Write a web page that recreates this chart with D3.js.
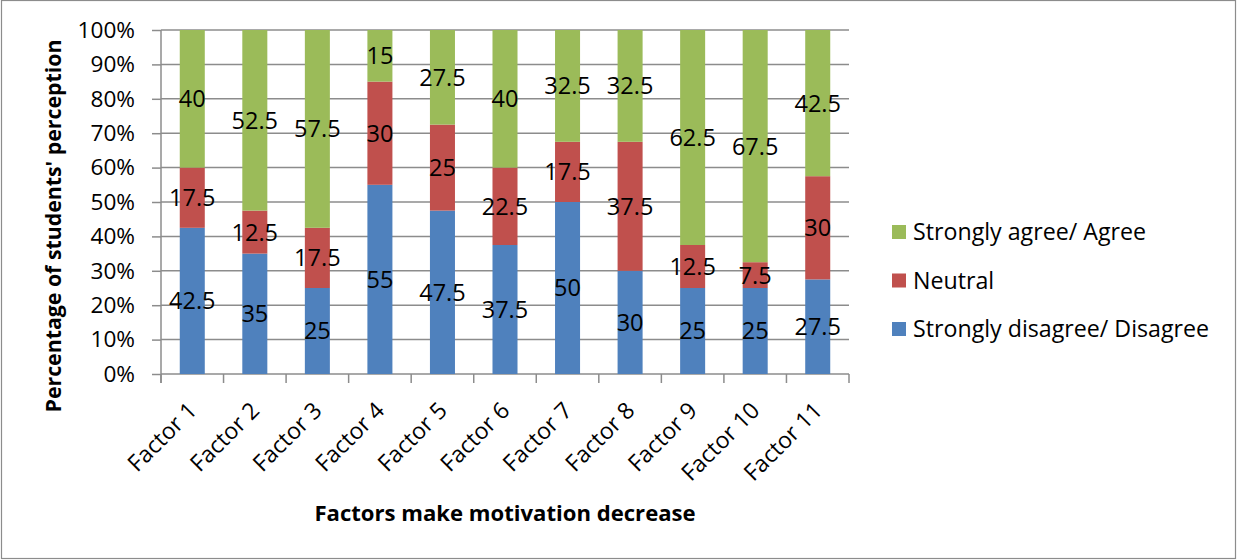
<!DOCTYPE html>
<html>
<head>
<meta charset="utf-8">
<script src="https://cdn.jsdelivr.net/npm/d3@7"></script>
<style>
  html, body { margin: 0; padding: 0; background: #fff; }
  svg { display: block; font-family: "Open Sans", "Noto Sans", sans-serif; }
</style>
</head>
<body>
<svg id="chart" width="1237" height="560"></svg>
<script>
// Survey results: share of students per answer, by factor
const categories = ["Factor 1", "Factor 2", "Factor 3", "Factor 4", "Factor 5", "Factor 6",
                    "Factor 7", "Factor 8", "Factor 9", "Factor 10", "Factor 11"];
const disagree = [42.5, 35, 25, 55, 47.5, 37.5, 50, 30, 25, 25, 27.5];
const neutral  = [17.5, 12.5, 17.5, 30, 25, 22.5, 17.5, 37.5, 12.5, 7.5, 30];
const agree    = [40, 52.5, 57.5, 15, 27.5, 40, 32.5, 32.5, 62.5, 67.5, 42.5];
const seriesNames = ["Strongly disagree/ Disagree", "Neutral", "Strongly agree/ Agree"];
const yTicks = [0, 10, 20, 30, 40, 50, 60, 70, 80, 90, 100];
const xTitle = "Factors make motivation decrease";
const yTitle = "Percentage of students' perception";

const colors = ["#4F81BD", "#C0504D", "#9BBB59"];

const svg = d3.select("#chart");
const W = 1237, H = 560;
const plot = { left: 161, right: 849, top: 30, bottom: 374 };

// outer frame
svg.append("rect")
  .attr("x", 1.5).attr("y", 0.5).attr("width", W - 3).attr("height", H - 2)
  .attr("fill", "#fff").attr("stroke", "#8c8c8c").attr("stroke-width", 1.2);

const table = categories.map((c, i) => ({
  cat: c, [seriesNames[0]]: disagree[i], [seriesNames[1]]: neutral[i], [seriesNames[2]]: agree[i]
}));
const stacked = d3.stack().keys(seriesNames)(table);

const x = d3.scaleBand().domain(categories).range([plot.left, plot.right]).paddingInner(0).paddingOuter(0);
const y = d3.scaleLinear().domain([0, 100]).range([plot.bottom, plot.top]);

const barW = x.bandwidth() * 0.4;
const gridColor = "#8c8c8c";

// horizontal gridlines
svg.append("g").selectAll("line").data(yTicks.filter(d => d > 0)).join("line")
  .attr("x1", plot.left).attr("x2", plot.right)
  .attr("y1", d => y(d)).attr("y2", d => y(d))
  .attr("stroke", gridColor).attr("stroke-width", 1.5);

// y axis
const yAxis = d3.axisLeft(y).tickValues(yTicks).tickSize(9).tickPadding(17)
  .tickFormat(d => d + "%");
const gy = svg.append("g").attr("transform", `translate(${plot.left},0)`).call(yAxis);
gy.select(".domain").remove();
gy.selectAll(".tick line").attr("stroke", gridColor).attr("stroke-width", 1.5);
gy.selectAll(".tick text").attr("font-size", 22.6).attr("fill", "#000")
  .attr("font-family", "'Open Sans', sans-serif");

// x axis with ticks at the band edges
const edges = categories.map(c => x(c)).concat([plot.right]);
const gx = svg.append("g");
gx.append("line").attr("x1", plot.left).attr("x2", plot.right)
  .attr("y1", plot.bottom).attr("y2", plot.bottom)
  .attr("stroke", gridColor).attr("stroke-width", 1.5);
gx.selectAll("line.edge").data(edges).join("line").attr("class", "edge")
  .attr("x1", d => d).attr("x2", d => d)
  .attr("y1", plot.bottom).attr("y2", plot.bottom + 9)
  .attr("stroke", gridColor).attr("stroke-width", 1.5);
// vertical axis line
svg.append("line").attr("x1", plot.left).attr("x2", plot.left)
  .attr("y1", plot.top).attr("y2", plot.bottom + 9)
  .attr("stroke", gridColor).attr("stroke-width", 1.5);

// category labels, rotated
gx.selectAll("text.cat").data(categories).join("text").attr("class", "cat")
  .attr("transform", d => `translate(${x(d) + x.bandwidth() / 2 + 6},${plot.bottom + 38}) rotate(-45)`)
  .attr("text-anchor", "end")
  .attr("font-size", 23)
  .attr("fill", "#000")
  .text(d => d);

// stacked bars
const layers = svg.append("g").selectAll("g").data(stacked).join("g")
  .attr("fill", (d, i) => colors[i]);
layers.selectAll("rect").data(d => d).join("rect")
  .attr("x", d => x(d.data.cat) + (x.bandwidth() - barW) / 2)
  .attr("width", barW)
  .attr("y", d => y(d[1]))
  .attr("height", d => y(d[0]) - y(d[1]));

// value labels centred in each segment
const labels = svg.append("g").selectAll("g").data(stacked).join("g");
labels.selectAll("text").data(d => d.map(v => ({ v, key: d.key }))).join("text")
  .attr("x", d => x(d.v.data.cat) + x.bandwidth() / 2)
  .attr("y", d => y((d.v[0] + d.v[1]) / 2))
  .attr("dy", "0.36em")
  .attr("text-anchor", "middle")
  .attr("font-size", 23.5)
  .attr("fill", "#000")
  .text(d => d.v.data[d.key]);

// legend (top to bottom: agree, neutral, disagree)
const legendItems = seriesNames.map((n, i) => ({ n, c: colors[i] })).reverse();
const lg = svg.append("g").selectAll("g").data(legendItems).join("g")
  .attr("transform", (d, i) => `translate(892,${232 + i * 48.5})`);
lg.append("rect").attr("x", 0).attr("y", -7).attr("width", 14).attr("height", 14)
  .attr("fill", d => d.c);
lg.append("text").attr("x", 21).attr("dy", "0.36em").attr("font-size", 23.2)
  .attr("fill", "#000").text(d => d.n);

// axis titles
svg.append("text")
  .attr("x", 505).attr("y", 521)
  .attr("text-anchor", "middle").attr("font-weight", "bold").attr("font-size", 22.1)
  .attr("fill", "#000").text(xTitle);
svg.append("text")
  .attr("transform", `translate(61,226) rotate(-90)`)
  .attr("text-anchor", "middle").attr("font-weight", "bold").attr("font-size", 21.3)
  .attr("fill", "#000").text(yTitle);
</script>
</body>
</html>
